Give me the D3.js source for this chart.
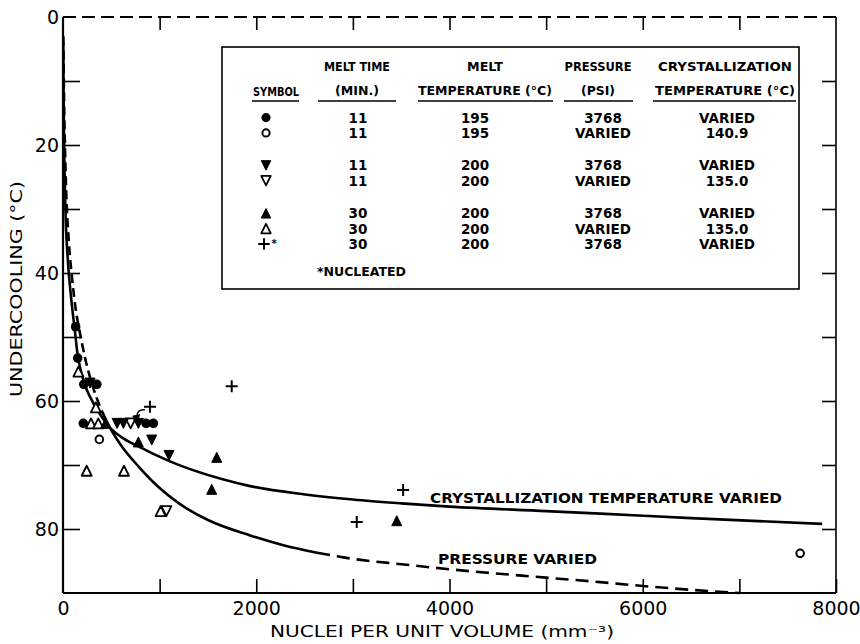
<!DOCTYPE html>
<html>
<head>
<meta charset="utf-8">
<script src="https://cdn.jsdelivr.net/npm/d3@7"></script>
<style>
  html, body { margin: 0; padding: 0; background: #fff; }
  svg { display: block; }
  text { font-family: "DejaVu Sans", sans-serif; fill: #000; }
</style>
</head>
<body>
<svg id="chart" width="860" height="644"></svg>
<script>
// ---- axis extents and ticks ----
const xDomain = [0, 8000];
const yDomain = [0, 90];
const xTicks = [0, 1000, 2000, 3000, 4000, 5000, 6000, 7000, 8000];
const xTickLabels = [0, 2000, 4000, 6000, 8000];
const yTicks = [0, 10, 20, 30, 40, 50, 60, 70, 80];
const yTickLabels = [0, 20, 40, 60, 80];

// ---- fitted curves: [nuclei per mm^3, undercooling °C] ----
const crystTempVaried = [
  [3, 4], [6, 12], [12, 20], [25, 30], [50, 38], [85, 44], [124, 49.2], [150, 52.6],
  [190, 55.6], [245, 58.2], [310, 60.2], [380, 62], [487, 64.2], [600, 65.6],
  [780, 67.1], [1100, 69.4], [1643, 72.2], [1936, 73.3], [2505, 74.6], [3000, 75.4],
  [3500, 76.0], [4000, 76.5], [5000, 77.2], [5559, 77.6], [6500, 78.3], [7857, 79.2]
];
const pressureVariedLow = [
  [4, 3], [10, 12], [20, 20], [35, 28], [60, 35], [95, 41], [130, 45.5], [176, 49.4],
  [235, 53.7], [314, 58], [400, 61.5]
];
const pressureVariedMid = [
  [400, 61.5], [487, 64.2], [600, 66.9], [780, 70.2], [1000, 73.6], [1200, 76.0],
  [1500, 78.6], [1936, 81.0], [2300, 82.6], [2630, 83.7]
];
const pressureVariedHigh = [
  [2630, 83.7], [2971, 84.6], [3500, 85.5], [4006, 86.3], [5000, 87.6], [5559, 88.3],
  [6000, 88.9], [6500, 89.5], [7000, 90]
];

// ---- measured points, one array per symbol ----
const filledCircles = [[131, 48.4], [152, 53.3], [215, 57.4], [350, 57.4], [210, 63.5], [860, 63.5], [935, 63.5]];
const openCircles = [[376, 66.0], [7629, 83.8]];
const filledDown = [[280, 57.2], [560, 63.5], [625, 63.5], [780, 63.5], [918, 66.1], [1097, 68.5]];
const openDown = [[700, 63.5], [1070, 77.2]];
const filledUp = [[440, 63.5], [780, 66.4], [1591, 68.8], [1539, 73.8], [3454, 78.7]];
const openUp = [[159, 55.4], [340, 61.0], [290, 63.5], [365, 63.5], [245, 70.9], [631, 70.9], [1010, 77.2]];
const plusNucleated = [[900, 60.9], [1746, 57.7], [3040, 78.9], [3520, 73.9]];

// ---- legend table ----
const legendSymbols = ["filledCircle", "openCircle", "filledDown", "openDown", "filledUp", "openUp", "plus"];
const legendMeltTime = ["11", "11", "11", "11", "30", "30", "30"];
const legendMeltTemp = ["195", "195", "200", "200", "200", "200", "200"];
const legendPressure = ["3768", "VARIED", "3768", "VARIED", "3768", "VARIED", "3768"];
const legendCrystTemp = ["VARIED", "140.9", "VARIED", "135.0", "VARIED", "135.0", "VARIED"];

const svg = d3.select("#chart");
const x = d3.scaleLinear().domain(xDomain).range([63, 836]);
const y = d3.scaleLinear().domain(yDomain).range([17, 593]);

// ---- frame ----
const frame = svg.append("g").attr("stroke", "#000").attr("fill", "none");
frame.append("line").attr("x1", x(0)).attr("x2", x(0)).attr("y1", y(0)).attr("y2", y(90)).attr("stroke-width", 2.2);
frame.append("line").attr("x1", x(0)).attr("x2", x(8000)).attr("y1", y(90)).attr("y2", y(90)).attr("stroke-width", 2);
frame.append("line").attr("x1", x(8000)).attr("x2", x(8000)).attr("y1", y(0)).attr("y2", y(90)).attr("stroke-width", 1.6);
frame.append("line").attr("x1", x(0)).attr("x2", x(8000)).attr("y1", y(0)).attr("y2", y(0))
  .attr("stroke-width", 1.8).attr("stroke-dasharray", "13,6");

// ---- axes (ticks point inward) ----
const fmtX = d => xTickLabels.includes(d) ? d : "";
const fmtY = d => yTickLabels.includes(d) ? d : "";

const xAxis = svg.append("g").attr("transform", `translate(0,${y(90)})`)
  .call(d3.axisBottom(x).tickValues(xTicks).tickSizeInner(-14).tickSizeOuter(0).tickPadding(9).tickFormat(fmtX));
const yAxis = svg.append("g").attr("transform", `translate(${x(0)},0)`)
  .call(d3.axisLeft(y).tickValues(yTicks).tickSizeInner(-17).tickSizeOuter(0).tickPadding(4).tickFormat(fmtY));
const topAxis = svg.append("g").attr("transform", `translate(0,${y(0)})`)
  .call(d3.axisTop(x).tickValues(xTicks.slice(1, -1)).tickSizeInner(-13).tickSizeOuter(0).tickFormat(""));
const rightAxis = svg.append("g").attr("transform", `translate(${x(8000)},0)`)
  .call(d3.axisRight(y).tickValues(yTicks.slice(1)).tickSizeInner(-14).tickSizeOuter(0).tickFormat(""));

[xAxis, yAxis, topAxis, rightAxis].forEach(g => {
  g.select(".domain").remove();
  g.selectAll(".tick line").attr("stroke", "#000").attr("stroke-width", 1.6);
  g.selectAll(".tick text").attr("font-family", "DejaVu Sans").attr("font-size", 19).attr("fill", "#000");
});
xAxis.selectAll(".tick").filter(d => d === 0).select("line").remove();
yAxis.selectAll(".tick").filter(d => d === 0).select("line").remove();

// ---- axis titles ----
svg.append("text").attr("x", 442).attr("y", 637).attr("text-anchor", "middle")
  .attr("font-size", 15).attr("textLength", 344).attr("lengthAdjust", "spacingAndGlyphs")
  .text("NUCLEI PER UNIT VOLUME (mm⁻³)");
svg.append("text").attr("transform", "translate(22,289) rotate(-90)").attr("text-anchor", "middle")
  .attr("font-size", 15).attr("textLength", 216).attr("lengthAdjust", "spacingAndGlyphs")
  .text("UNDERCOOLING (°C)");

// ---- curves ----
const line = d3.line().x(d => x(d[0])).y(d => y(d[1])).curve(d3.curveMonotoneX);
const curves = svg.append("g").attr("fill", "none").attr("stroke", "#000").attr("stroke-width", 2.6);
curves.append("path").attr("d", line(crystTempVaried));
curves.append("path").attr("d", line(pressureVariedLow)).attr("stroke-dasharray", "9,5");
curves.append("path").attr("d", line(pressureVariedMid));
curves.append("path").attr("d", line(pressureVariedHigh)).attr("stroke-dasharray", "13,7");

svg.append("text").attr("x", 430).attr("y", 503).attr("font-size", 13.5).attr("font-weight", "bold")
  .attr("textLength", 352).attr("lengthAdjust", "spacingAndGlyphs")
  .text("CRYSTALLIZATION TEMPERATURE VARIED");
svg.append("text").attr("x", 438).attr("y", 564).attr("font-size", 13.5).attr("font-weight", "bold")
  .attr("textLength", 159).attr("lengthAdjust", "spacingAndGlyphs")
  .text("PRESSURE VARIED");

// ---- marker drawing ----
function drawMarker(g, type, cx, cy, s = 1) {
  const h = 5 * s;
  if (type === "filledCircle") {
    g.append("circle").attr("cx", cx).attr("cy", cy).attr("r", 4.8 * s).attr("fill", "#000");
  } else if (type === "openCircle") {
    g.append("circle").attr("cx", cx).attr("cy", cy).attr("r", 3.8 * s)
      .attr("fill", "#fff").attr("stroke", "#000").attr("stroke-width", 2);
  } else if (type === "filledDown" || type === "openDown") {
    g.append("path").attr("d", `M${cx - h},${cy - h}L${cx + h},${cy - h}L${cx},${cy + h}Z`)
      .attr("fill", type === "filledDown" ? "#000" : "#fff").attr("stroke", "#000")
      .attr("stroke-width", type === "filledDown" ? 1 : 1.8).attr("stroke-linejoin", "round");
  } else if (type === "filledUp" || type === "openUp") {
    g.append("path").attr("d", `M${cx - h},${cy + h}L${cx + h},${cy + h}L${cx},${cy - h}Z`)
      .attr("fill", type === "filledUp" ? "#000" : "#fff").attr("stroke", "#000")
      .attr("stroke-width", type === "filledUp" ? 1 : 1.8).attr("stroke-linejoin", "round");
  } else if (type === "plus") {
    const p = 6 * s;
    g.append("path").attr("d", `M${cx - p},${cy}H${cx + p}M${cx},${cy - p}V${cy + p}`)
      .attr("stroke", "#000").attr("stroke-width", 2).attr("fill", "none");
  }
}

const pts = svg.append("g");
const seriesList = [
  ["openUp", openUp], ["openDown", openDown], ["openCircle", openCircles],
  ["filledCircle", filledCircles], ["filledDown", filledDown], ["filledUp", filledUp],
  ["plus", plusNucleated]
];
seriesList.forEach(([type, arr]) => arr.forEach(d => drawMarker(pts, type, x(d[0]), y(d[1]))));

// curved arrow from the nucleated point down to the row of points
const arrowFrom = plusNucleated[0];
const ax0 = x(arrowFrom[0]) - 5, ay0 = y(arrowFrom[1]) + 3;
const ax1 = x(770), ay1 = y(63.2);
svg.append("defs").append("marker").attr("id", "ah").attr("viewBox", "0 0 10 10")
  .attr("refX", 8).attr("refY", 5).attr("markerWidth", 6).attr("markerHeight", 6)
  .attr("orient", "auto").append("path").attr("d", "M0,0L10,5L0,10Z").attr("fill", "#000");
svg.append("path")
  .attr("d", `M${ax0},${ay0}Q${ax0 - 10},${ay0 - 1} ${ax1},${ay1}`)
  .attr("fill", "none").attr("stroke", "#000").attr("stroke-width", 1.4).attr("marker-end", "url(#ah)");

// ---- legend table ----
const lg = svg.append("g");
lg.append("rect").attr("x", 222).attr("y", 47).attr("width", 577).attr("height", 242)
  .attr("fill", "#fff").attr("stroke", "#000").attr("stroke-width", 1.6);

const hdr = lg.append("g").attr("font-size", 12).attr("font-weight", "bold").attr("text-anchor", "middle");
function hText(cx, yy, s, w) {
  const t = hdr.append("text").attr("x", cx).attr("y", yy).text(s);
  if (w) t.attr("textLength", w).attr("lengthAdjust", "spacingAndGlyphs");
}
hText(276, 96, "SYMBOL", 46);
hText(357, 71, "MELT TIME", 66);
hText(357, 95, "(MIN.)", 44);
hText(485, 71, "MELT", 36);
hText(485, 95, "TEMPERATURE (°C)", 134);
hText(598, 71, "PRESSURE", 67);
hText(598, 95, "(PSI)", 34);
hText(725, 71, "CRYSTALLIZATION", 134);
hText(725, 95, "TEMPERATURE (°C)", 140);
const uls = [[252, 299], [318, 396], [418, 553], [564, 633], [653, 796]];
uls.forEach(([a, b]) => lg.append("line").attr("x1", a).attr("x2", b).attr("y1", 101).attr("y2", 101)
  .attr("stroke", "#000").attr("stroke-width", 1.4));

const rowY = [117.6, 132.9, 165.4, 180.7, 213.3, 228.6, 243.9];
const body = lg.append("g").attr("font-size", 13.5).attr("font-weight", "bold").attr("text-anchor", "middle");
legendSymbols.forEach((sym, i) => {
  const cy = rowY[i];
  drawMarker(lg, sym, sym === "plus" ? 264 : 266, cy, 0.95);
  body.append("text").attr("x", 358).attr("y", cy + 5).text(legendMeltTime[i]);
  body.append("text").attr("x", 475).attr("y", cy + 5).text(legendMeltTemp[i]);
  body.append("text").attr("x", 603).attr("y", cy + 5).text(legendPressure[i]);
  body.append("text").attr("x", 727).attr("y", cy + 5).text(legendCrystTemp[i]);
});
body.append("text").attr("x", 274).attr("y", 247).attr("font-size", 10).text("*");
lg.append("text").attr("x", 317).attr("y", 276).attr("font-size", 12.5).attr("font-weight", "bold")
  .text("*NUCLEATED");
</script>
</body>
</html>
